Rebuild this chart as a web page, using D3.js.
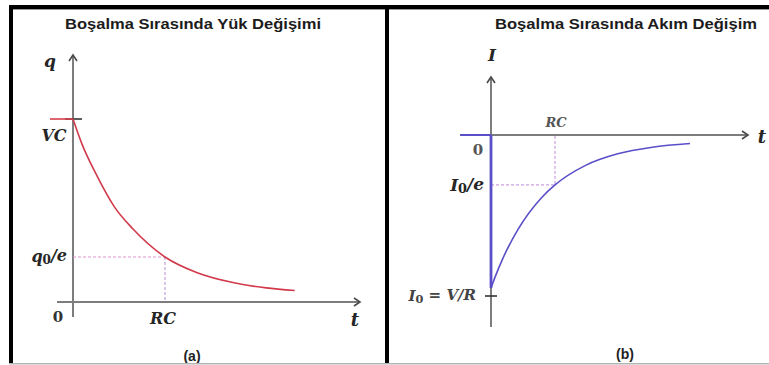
<!DOCTYPE html>
<html>
<head>
<meta charset="utf-8">
<script src="https://cdn.jsdelivr.net/npm/d3@7"></script>
<style>
  html, body { margin: 0; padding: 0; background: #fff; }
  svg { display: block; }
  .title { font-family: "Liberation Sans", Arial, sans-serif; font-weight: bold; font-size: 15px; fill: #1c1c1c; }
  .cap { font-family: "Liberation Sans", Arial, sans-serif; font-weight: bold; font-size: 14px; fill: #222; }
  .math { font-family: "DejaVu Serif", "Liberation Serif", serif; font-weight: bold; font-style: italic; font-size: 16px; fill: #262626; }
  .num { font-family: "DejaVu Serif", "Liberation Serif", serif; font-weight: bold; font-size: 15px; fill: #333; }
</style>
</head>
<body>
<script>
// Panel (a): charge on the capacitor while discharging, q in units of VC, t in units of RC
const chargeT = [0, 0.1, 0.25, 0.45, 0.65, 1.0, 1.35, 1.75, 2.1, 2.41];
const chargeQ = [1.0, 0.86, 0.70, 0.52, 0.40, 0.246, 0.16, 0.105, 0.077, 0.063];
// Panel (b): current while discharging, I in units of I0 (negative direction), t in units of RC
const currentT = [0, 0.06, 0.17, 0.42, 0.8, 1.0, 1.47, 1.98, 2.52, 3.11];
const currentI = [-0.95, -0.886, -0.78, -0.588, -0.385, -0.31, -0.19, -0.117, -0.076, -0.053];

const titles = ["Boşalma Sırasında Yük Değişimi", "Boşalma Sırasında Akım Değişim"];
const captions = ["(a)", "(b)"];

const W = 769, H = 365;
const svg = d3.select("body").append("svg").attr("width", W).attr("height", H);
svg.append("rect").attr("width", W).attr("height", H).attr("fill", "#fff");

const axisColor = "#7d7d7d";
const arrowColor = "#4a4a4a";

function arrowHead(g, x, y, dir) {
  // small open chevron at the end of an axis
  const p = dir === "up"
    ? `M${x - 4},${y + 6} L${x},${y} L${x + 4},${y + 6}`
    : `M${x - 6},${y - 4} L${x},${y} L${x - 6},${y + 4}`;
  g.append("path").attr("d", p).attr("fill", "none").attr("stroke", arrowColor).attr("stroke-width", 1.6);
}

function mathLabel(g, x, y, parts, anchor, size) {
  const t = g.append("text").attr("class", "math").attr("x", x).attr("y", y)
    .attr("text-anchor", anchor || "middle").attr("dominant-baseline", "middle");
  if (size) t.style("font-size", size + "px");
  parts.forEach(p => {
    const s = t.append("tspan").text(p.t);
    if (p.sub) s.attr("font-size", "0.75em").attr("dy", "0.25em").style("font-style", "normal");
    if (p.after) s.attr("dy", "-0.25em");
  });
  return t;
}

// ---------- Panel (a) ----------
const ga = svg.append("g");
const xa = d3.scaleLinear().domain([0, 1]).range([73, 165]);
const ya = d3.scaleLinear().domain([0, 1]).range([302, 119]);

ga.append("text").attr("class", "title").attr("x", 193).attr("y", 29).attr("text-anchor", "middle")
  .attr("textLength", 256).attr("lengthAdjust", "spacingAndGlyphs").text(titles[0]);

// axes
ga.append("line").attr("x1", xa(0)).attr("x2", xa(0)).attr("y1", 317).attr("y2", 55)
  .attr("stroke", axisColor).attr("stroke-width", 2);
ga.append("line").attr("x1", 57).attr("x2", 360).attr("y1", ya(0)).attr("y2", ya(0))
  .attr("stroke", axisColor).attr("stroke-width", 2);
arrowHead(ga, xa(0), 55, "up");
arrowHead(ga, 360, ya(0), "right");

// tick at q = VC
ga.append("line").attr("x1", xa(0) - 8).attr("x2", xa(0) + 9).attr("y1", ya(1)).attr("y2", ya(1))
  .attr("stroke", "#333").attr("stroke-width", 1.6);

// guide lines at t = RC
const qRC = chargeQ[chargeT.indexOf(1.0)];
ga.append("path")
  .attr("d", `M${xa(0)},${ya(qRC)} H${xa(1)}`)
  .attr("fill", "none").attr("stroke", "#dd93cf").attr("stroke-width", 1).attr("stroke-dasharray", "3,2");
ga.append("path")
  .attr("d", `M${xa(1)},${ya(qRC)} V${ya(0)}`)
  .attr("fill", "none").attr("stroke", "#b48ad8").attr("stroke-width", 1).attr("stroke-dasharray", "3,2");

// charge curve, with the constant value before t = 0
const lineA = d3.line().x(d => xa(d[0])).y(d => ya(d[1])).curve(d3.curveMonotoneX);
ga.append("line").attr("x1", xa(-0.25)).attr("x2", xa(0)).attr("y1", ya(1)).attr("y2", ya(1))
  .attr("stroke", "#d8404e").attr("stroke-width", 1.6);
ga.append("path").datum(d3.zip(chargeT, chargeQ)).attr("d", lineA)
  .attr("fill", "none").attr("stroke", "#d23a4c").attr("stroke-width", 1.6);

// labels
mathLabel(ga, 50, 62, [{t: "q"}], "middle", 17);
mathLabel(ga, 54, ya(1) + 17, [{t: "VC"}]);
mathLabel(ga, 67, ya(qRC), [{t: "q"}, {t: "0", sub: true}, {t: "/e", after: true}], "end");
ga.append("text").attr("class", "num").attr("x", 58).attr("y", 318).attr("text-anchor", "middle")
  .attr("dominant-baseline", "middle").text("0");
mathLabel(ga, xa(1) - 2, 319, [{t: "RC"}]);
mathLabel(ga, 355, 321, [{t: "t"}], "middle", 18);
ga.append("text").attr("class", "cap").attr("x", 192).attr("y", 361).attr("text-anchor", "middle").text(captions[0]);

// ---------- Panel (b) ----------
const gb = svg.append("g");
const xb = d3.scaleLinear().domain([0, 1]).range([491, 555]);
const yb = d3.scaleLinear().domain([-1, 0]).range([296, 135]);

gb.append("text").attr("class", "title").attr("x", 626).attr("y", 29).attr("text-anchor", "middle")
  .attr("textLength", 262).attr("lengthAdjust", "spacingAndGlyphs").text(titles[1]);

gb.append("line").attr("x1", xb(0)).attr("x2", xb(0)).attr("y1", 327).attr("y2", 77)
  .attr("stroke", axisColor).attr("stroke-width", 2);
gb.append("line").attr("x1", 460).attr("x2", 748).attr("y1", yb(0)).attr("y2", yb(0))
  .attr("stroke", axisColor).attr("stroke-width", 2);
arrowHead(gb, xb(0), 77, "up");
arrowHead(gb, 748, yb(0), "right");

// tick at I = I0
gb.append("line").attr("x1", xb(0) - 6).attr("x2", xb(0) + 6).attr("y1", yb(-1)).attr("y2", yb(-1))
  .attr("stroke", "#333").attr("stroke-width", 1.6);

// guide lines at t = RC
const iRC = currentI[currentT.indexOf(1.0)];
gb.append("path")
  .attr("d", `M${xb(0)},${yb(iRC)} H${xb(1)} V${yb(0)}`)
  .attr("fill", "none").attr("stroke", "#c08ad8").attr("stroke-width", 1).attr("stroke-dasharray", "3,2");

// current: zero before t = 0, sudden jump, then recovery
const blue = "#5a4fc8";
gb.append("path")
  .attr("d", `M${xb(-0.48)},${yb(0)} H${xb(0)}`)
  .attr("stroke", blue).attr("stroke-width", 2).attr("fill", "none");
gb.append("path")
  .attr("d", `M${xb(0)},${yb(0)} V${yb(currentI[0])}`)
  .attr("stroke", blue).attr("stroke-width", 2.8).attr("fill", "none");
const lineB = d3.line().x(d => xb(d[0])).y(d => yb(d[1])).curve(d3.curveMonotoneX);
gb.append("path").datum(d3.zip(currentT, currentI)).attr("d", lineB)
  .attr("fill", "none").attr("stroke", blue).attr("stroke-width", 1.6);

// labels
mathLabel(gb, 492, 56, [{t: "I"}], "middle", 17);
mathLabel(gb, xb(1) + 1, 123, [{t: "RC"}], "middle", 13).style("fill", "#555");
gb.append("text").attr("class", "num").attr("x", 478).attr("y", 151).attr("text-anchor", "middle")
  .attr("dominant-baseline", "middle").text("0").style("fill", "#555");
mathLabel(gb, 484, yb(iRC) + 1, [{t: "I"}, {t: "0", sub: true}, {t: "/e", after: true}], "end", 17);
mathLabel(gb, 476, yb(-1) + 1, [{t: "I"}, {t: "0", sub: true}, {t: " = V/R", after: true}], "end", 15).style("fill", "#444");
mathLabel(gb, 762, 138, [{t: "t"}], "middle", 18);
gb.append("text").attr("class", "cap").attr("x", 625).attr("y", 359).attr("text-anchor", "middle").text(captions[1]);

// ---------- frame ----------
svg.append("rect").attr("x", 9).attr("y", 5).attr("width", W - 9).attr("height", 4).attr("fill", "#000");
svg.append("rect").attr("x", 9).attr("y", 9).attr("width", W - 9).attr("height", 1).attr("fill", "#999");
svg.append("rect").attr("x", 9).attr("y", 5).attr("width", 4).attr("height", 358).attr("fill", "#000");
svg.append("rect").attr("x", 385).attr("y", 5).attr("width", 4).attr("height", 358).attr("fill", "#000");
svg.append("rect").attr("x", 9).attr("y", 363).attr("width", W - 9).attr("height", 1.5).attr("fill", "#b5b5b5");
</script>
</body>
</html>
